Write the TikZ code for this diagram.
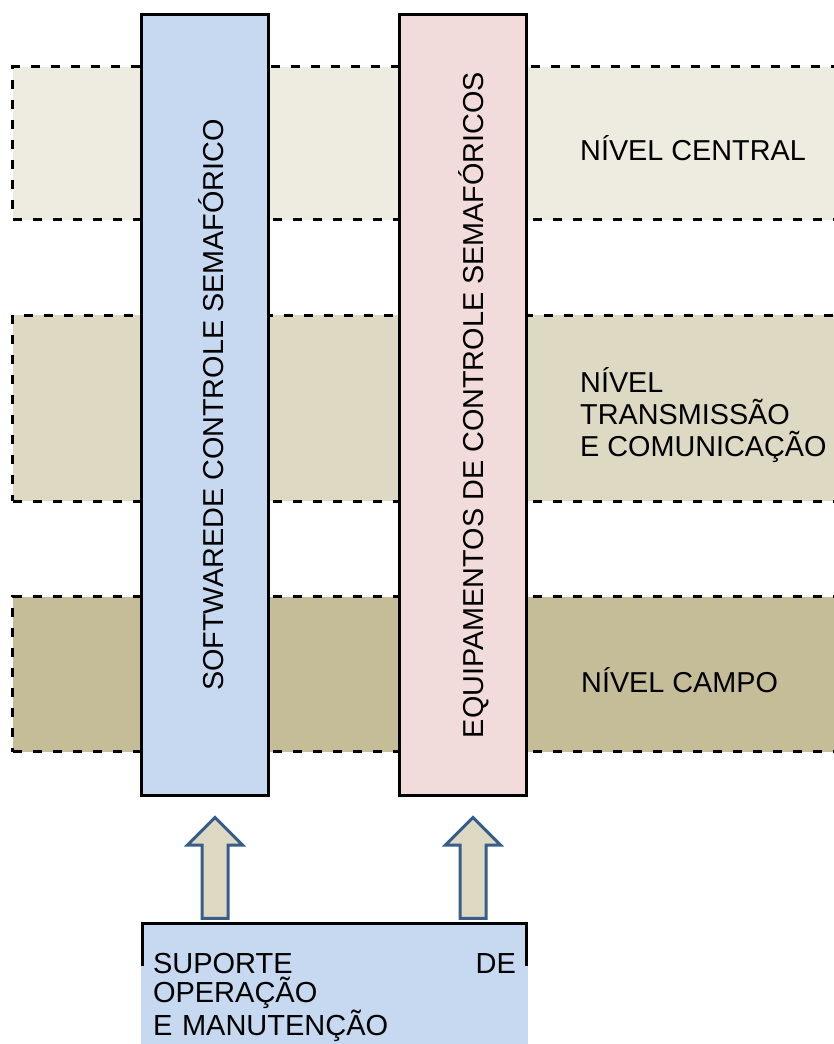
\documentclass[tikz,border=0pt]{standalone}
\usepackage{fontspec}
\setmainfont{Liberation Sans}
\usetikzlibrary{calc,positioning}
\definecolor{bandtop}{HTML}{EEECE1}
\definecolor{bandmid}{HTML}{DDD9C3}
\definecolor{bandlow}{HTML}{C4BD97}
\definecolor{swblue}{HTML}{C6D9F1}
\definecolor{eqpink}{HTML}{F2DCDB}
\definecolor{arrowline}{HTML}{385D8A}
\tikzstyle{band} = [rectangle, draw=black, line width=3pt, dash pattern=on 9pt off 11pt, minimum width=837pt, inner sep=0pt]
\tikzstyle{column} = [rectangle, draw=black, line width=3pt, minimum width=127pt, minimum height=781pt, inner sep=0pt]
\tikzstyle{collabel} = [rotate=90, anchor=base, inner sep=0pt, font=\fontsize{28.8}{32}\selectfont]
\tikzstyle{level} = [inner sep=0pt, align=left, font=\fontsize{28.8}{32}\selectfont]
\tikzstyle{upblock} = [draw=arrowline, fill=bandmid, line width=3pt, line join=miter,
  to path={let \p1=(\tikztostart), \p2=(\tikztotarget) in
    (\x2-3pt,\y1+5.5pt) -- (\x2-3pt,\y2-48pt) -- (\x2-17.5pt,\y2-48pt) -- (\x2+10pt,\y2-20.5pt)
    -- (\x2+37.5pt,\y2-48pt) -- (\x2+23pt,\y2-48pt) -- (\x2+23pt,\y1+5.5pt) -- cycle}]

\begin{document}
\begin{tikzpicture}[x=1pt, y=-1pt]
    \useasboundingbox (0,0) rectangle (834,1044);
    % Bands
    \node [band, fill=bandtop, minimum height=153pt] (central) at (431.3,143) {};
    \node [band, fill=bandmid, minimum height=186pt] (transm) at (431.3,408) {};
    \node [band, fill=bandlow, minimum height=155pt] (campo) at (431.3,674.4) {};
    % Columns
    \node [column, fill=swblue] (sw) at (205,405) {};
    \node [column, fill=eqpink] (eq) at (463,405) {};
    \node [collabel] (swtext) at ($(sw.center)+(18,0)$) {SOFTWAREDE CONTROLE SEMAFÓRICO};
    \node [collabel] (eqtext) at ($(eq.center)+(20,0)$) {EQUIPAMENTOS DE CONTROLE SEMAFÓRICOS};
    % Level names
    \node [level, anchor=base west] (centraltext) at (580,160) {NÍVEL CENTRAL};
    \node [level, anchor=west] (transmtext) at (580,415) {NÍVEL\\TRANSMISSÃO\\E COMUNICAÇÃO};
    \node [level, anchor=base west] (campotext) at (581,692) {NÍVEL CAMPO};
    % Support box
    \node [rectangle, fill=swblue, minimum width=387pt, minimum height=146pt, inner sep=0pt,
      text width=363pt, align=left, font=\fontsize{29}{29.5}\selectfont] (supp) at (334.5,997)
      {SUPORTE\hfill DE\\OPERAÇÃO\\E MANUTENÇÃO};
    \draw [line width=3pt] ($(supp.north west)+(1.5,42)$) |- ($(supp.north east)+(-1.5,0)$) -- ++(0,42);
    % Lines
    \path [upblock] (supp.north) to (sw.south);
    \path [upblock] (supp.north) to (eq.south);
\end{tikzpicture}
\end{document}
